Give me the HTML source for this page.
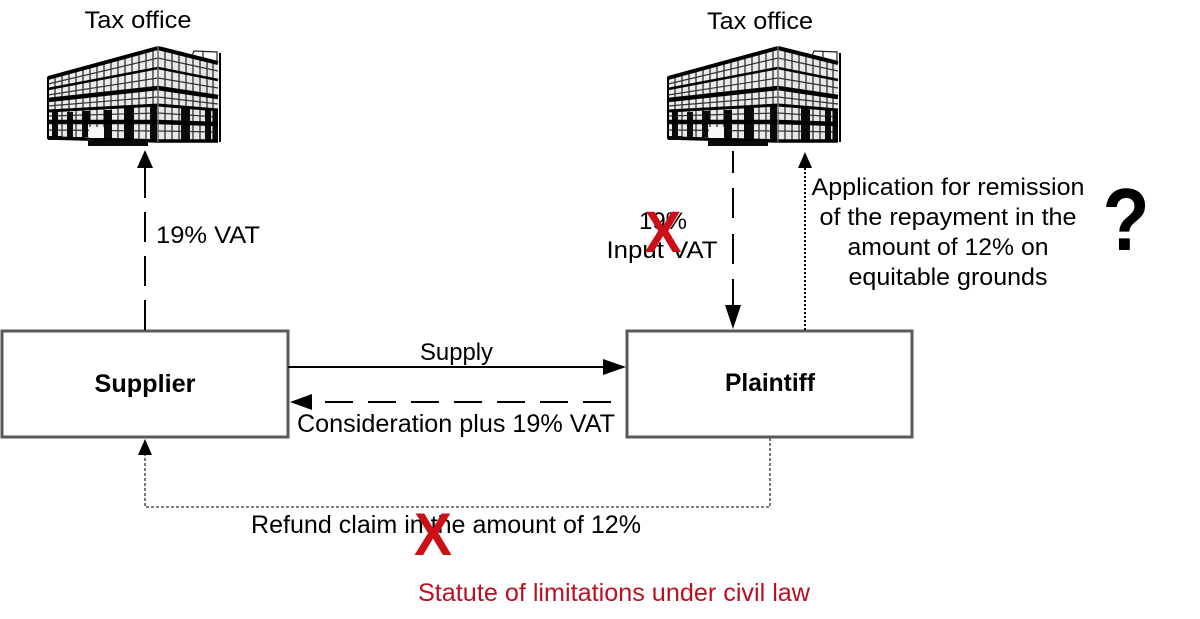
<!DOCTYPE html>
<html>
<head>
<meta charset="utf-8">
<style>
html,body{margin:0;padding:0;background:#fff;}
body{width:1200px;height:619px;overflow:hidden;}
svg{display:block;}
text{font-family:"Liberation Sans",Arial,sans-serif;}
</style>
</head>
<body>
<svg width="1200" height="619" viewBox="0 0 1200 619" xmlns="http://www.w3.org/2000/svg">
<defs>
  <g id="bld">
    <!-- facades -->
    <polygon points="48,78 158,48 158,141 48,138" fill="#ececec"/>
    <polygon points="158,48 218,62 218,141 158,141" fill="#e8e8e8"/>
    <!-- vertical mullions -->
    <g stroke="#222" stroke-width="1.2">
      <line x1="55" y1="76" x2="55" y2="138"/>
      <line x1="62" y1="74" x2="62" y2="138"/>
      <line x1="69" y1="72" x2="69" y2="138"/>
      <line x1="76" y1="70" x2="76" y2="139"/>
      <line x1="83" y1="68" x2="83" y2="139"/>
      <line x1="90" y1="66" x2="90" y2="139"/>
      <line x1="97" y1="64" x2="97" y2="139"/>
      <line x1="104" y1="62" x2="104" y2="140"/>
      <line x1="111" y1="60" x2="111" y2="140"/>
      <line x1="118" y1="58" x2="118" y2="140"/>
      <line x1="125" y1="56" x2="125" y2="140"/>
      <line x1="132" y1="54" x2="132" y2="140"/>
      <line x1="139" y1="52" x2="139" y2="141"/>
      <line x1="146" y1="50" x2="146" y2="141"/>
      <line x1="153" y1="49" x2="153" y2="141"/>
      <line x1="165" y1="50" x2="165" y2="141"/>
      <line x1="172" y1="52" x2="172" y2="141"/>
      <line x1="179" y1="53" x2="179" y2="141"/>
      <line x1="186" y1="55" x2="186" y2="141"/>
      <line x1="193" y1="57" x2="193" y2="141"/>
      <line x1="200" y1="58" x2="200" y2="141"/>
      <line x1="207" y1="60" x2="207" y2="141"/>
      <line x1="213" y1="61" x2="213" y2="141"/>
    </g>
    <!-- mid-row thin lines -->
    <g stroke="#333" stroke-width="1.2">
      <line x1="48" y1="84" x2="158" y2="58"/>
      <line x1="48" y1="95" x2="158" y2="78"/>
      <line x1="48" y1="106" x2="158" y2="97"/>
      <line x1="48" y1="116" x2="158" y2="113"/>
      <line x1="48" y1="130" x2="158" y2="131"/>
      <line x1="158" y1="58" x2="218" y2="71"/>
      <line x1="158" y1="78" x2="218" y2="88"/>
      <line x1="158" y1="97" x2="218" y2="104"/>
      <line x1="158" y1="113" x2="218" y2="117"/>
      <line x1="158" y1="131" x2="218" y2="132"/>
    </g>
    <!-- black window blocks lower rows -->
    <g fill="#0a0a0a">
      <rect x="52" y="112" width="6" height="10"/>
      <rect x="67" y="112" width="6" height="10"/>
      <rect x="82" y="111" width="8" height="11"/>
      <rect x="104" y="110" width="8" height="12"/>
      <rect x="124" y="108" width="10" height="14"/>
      <rect x="150" y="106" width="7" height="16"/>
      <rect x="181" y="108" width="9" height="15"/>
      <rect x="205" y="110" width="6" height="14"/>
      <rect x="213" y="110" width="5" height="14"/>
      <rect x="52" y="124" width="6" height="13"/>
      <rect x="67" y="124" width="6" height="13"/>
      <rect x="82" y="124" width="6" height="13"/>
      <rect x="104" y="124" width="8" height="15"/>
      <rect x="124" y="124" width="10" height="16"/>
      <rect x="150" y="124" width="7" height="17"/>
      <rect x="181" y="125" width="9" height="16"/>
      <rect x="205" y="125" width="6" height="16"/>
      <rect x="213" y="125" width="5" height="16"/>
    </g>
    <!-- floor bands -->
    <g stroke="#000" stroke-linecap="butt">
      <line x1="48" y1="78" x2="158" y2="48" stroke-width="4"/>
      <line x1="48" y1="89" x2="158" y2="68" stroke-width="2.5"/>
      <line x1="48" y1="100" x2="158" y2="88" stroke-width="4.5"/>
      <line x1="48" y1="111" x2="158" y2="105" stroke-width="3"/>
      <line x1="48" y1="122" x2="158" y2="122" stroke-width="4.5"/>
      <line x1="48" y1="138" x2="158" y2="141" stroke-width="3.5"/>
      <line x1="158" y1="48" x2="218" y2="63" stroke-width="4"/>
      <line x1="158" y1="68" x2="218" y2="80" stroke-width="2.5"/>
      <line x1="158" y1="88" x2="218" y2="97" stroke-width="4.5"/>
      <line x1="158" y1="105" x2="218" y2="110" stroke-width="3"/>
      <line x1="158" y1="122" x2="218" y2="124" stroke-width="4.5"/>
      <line x1="158" y1="141" x2="218" y2="141" stroke-width="3.5"/>
      <line x1="48" y1="77" x2="48" y2="139" stroke-width="2"/>
      <line x1="158" y1="47" x2="158" y2="142" stroke-width="1.5" stroke="#666"/>
      <line x1="220" y1="53" x2="220" y2="142" stroke-width="2"/>
    </g>
    <!-- rooftop box -->
    <g stroke="#222" stroke-width="1.2" fill="none">
      <polyline points="192,56 194,51 217,52 217,62"/>
      <line x1="203" y1="52" x2="203" y2="59"/>
    </g>
    <!-- base slabs -->
    <rect x="88" y="141" width="60" height="5" fill="#0a0a0a"/>
    <rect x="48" y="136" width="14" height="4" fill="#0a0a0a"/>
    <rect x="89" y="127" width="15" height="11" fill="#f6f6f6"/>
  </g>
</defs>

<!-- Buildings -->
<use href="#bld" x="0" y="0"/>
<use href="#bld" x="620" y="0"/>

<!-- Tax office labels -->
<text x="138" y="28" font-size="24" text-anchor="middle" textLength="107" lengthAdjust="spacingAndGlyphs">Tax office</text>
<text x="760" y="29" font-size="24" text-anchor="middle" textLength="106" lengthAdjust="spacingAndGlyphs">Tax office</text>

<!-- Boxes -->
<rect x="2" y="331" width="286" height="106" fill="#fff" stroke="#595959" stroke-width="3"/>
<rect x="627" y="331" width="285" height="106" fill="#fff" stroke="#595959" stroke-width="3"/>
<text x="145" y="392" font-size="25" font-weight="bold" text-anchor="middle" textLength="101" lengthAdjust="spacingAndGlyphs">Supplier</text>
<text x="770" y="391" font-size="25" font-weight="bold" text-anchor="middle" textLength="90" lengthAdjust="spacingAndGlyphs">Plaintiff</text>

<!-- Left vertical dashed arrow up -->
<line x1="145" y1="330" x2="145" y2="167" stroke="#000" stroke-width="2" stroke-dasharray="30 14"/>
<polygon points="145,150 137,168 153,168" fill="#000"/>
<text x="156" y="243" font-size="24" textLength="104" lengthAdjust="spacingAndGlyphs">19% VAT</text>

<!-- Right dashed arrow down -->
<line x1="733" y1="151" x2="733" y2="306" stroke="#000" stroke-width="2" stroke-dasharray="22 15 30 16 30 15 30"/>
<polygon points="733,329 725,305 741,305" fill="#000"/>
<text x="663" y="229" font-size="24" text-anchor="middle" textLength="48" lengthAdjust="spacingAndGlyphs">19%</text>
<text x="662" y="258" font-size="24" text-anchor="middle" textLength="111" lengthAdjust="spacingAndGlyphs">Input VAT</text>
<text x="663" y="252" font-size="58" font-weight="bold" fill="#cc1018" text-anchor="middle" textLength="37" lengthAdjust="spacingAndGlyphs">X</text>

<!-- Dotted arrow up -->
<line x1="805" y1="330" x2="805" y2="167" stroke="#000" stroke-width="2" stroke-dasharray="2 2"/>
<polygon points="805,152 798,168 812,168" fill="#000"/>
<text x="948" y="195" font-size="24" text-anchor="middle" textLength="273" lengthAdjust="spacingAndGlyphs">Application for remission</text>
<text x="948" y="225" font-size="24" text-anchor="middle" textLength="257" lengthAdjust="spacingAndGlyphs">of the repayment in the</text>
<text x="948" y="255" font-size="24" text-anchor="middle" textLength="201" lengthAdjust="spacingAndGlyphs">amount of 12% on</text>
<text x="948" y="285" font-size="24" text-anchor="middle" textLength="199" lengthAdjust="spacingAndGlyphs">equitable grounds</text>
<text x="1126" y="250" font-size="88" font-weight="bold" text-anchor="middle" textLength="47" lengthAdjust="spacingAndGlyphs">?</text>

<!-- Supply arrow -->
<line x1="288" y1="367" x2="606" y2="367" stroke="#000" stroke-width="2"/>
<polygon points="626,367 603,359 603,375" fill="#000"/>
<text x="420" y="360" font-size="24" textLength="73" lengthAdjust="spacingAndGlyphs">Supply</text>

<!-- Consideration dashed arrow -->
<line x1="611" y1="402" x2="310" y2="402" stroke="#000" stroke-width="2" stroke-dasharray="28 15"/>
<polygon points="290,402 312,394 312,410" fill="#000"/>
<text x="297" y="432" font-size="25" textLength="318" lengthAdjust="spacingAndGlyphs">Consideration plus 19% VAT</text>

<!-- Bottom dotted connector -->
<path d="M770,438 V507 H145 V454" fill="none" stroke="#555" stroke-width="1.6" stroke-dasharray="3 2"/>
<polygon points="145,439 138,455 152,455" fill="#000"/>
<text x="251" y="533" font-size="25" textLength="390" lengthAdjust="spacingAndGlyphs">Refund claim in the amount of 12%</text>
<text x="433" y="555" font-size="60" font-weight="bold" fill="#cc1018" text-anchor="middle" textLength="38" lengthAdjust="spacingAndGlyphs">X</text>

<!-- Statute -->
<text x="418" y="601" font-size="25" fill="#b81020" textLength="392" lengthAdjust="spacingAndGlyphs">Statute of limitations under civil law</text>
</svg>
</body>
</html>
